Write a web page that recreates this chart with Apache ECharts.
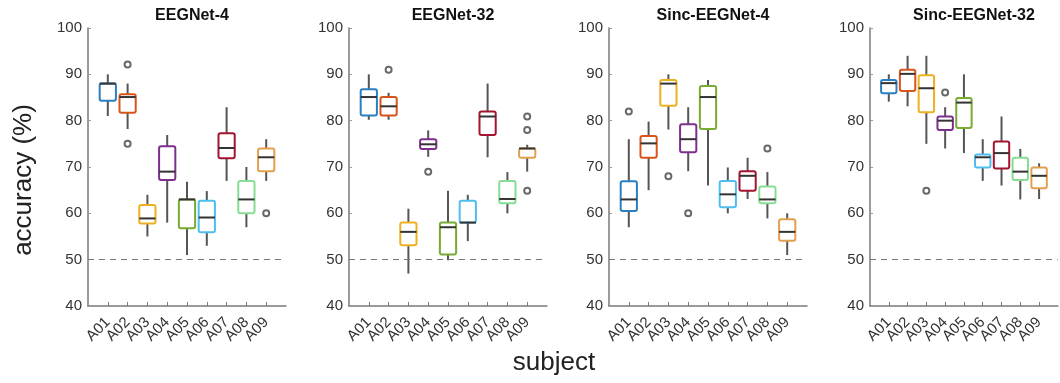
<!DOCTYPE html>
<html>
<head>
<meta charset="utf-8">
<script src="https://cdn.jsdelivr.net/npm/echarts@6/dist/echarts.min.js"></script>
<style>
  html, body { margin: 0; padding: 0; background: #fff; }
  #chart { width: 1060px; height: 383px; }
</style>
</head>
<body>
<div id="chart"></div>
<script>
// subjects, with an empty slot at each end so A01..A09 sit at 1..9
var subjects = ['', 'A01', 'A02', 'A03', 'A04', 'A05', 'A06', 'A07', 'A08', 'A09', ''];
var panelTitles = ['EEGNet-4', 'EEGNet-32', 'Sinc-EEGNet-4', 'Sinc-EEGNet-32'];
var subjectColors = ['#2b7fc0', '#d9541a', '#edb120', '#7e2f8e', '#77ac30', '#4dbeee', '#a2142f', '#86dd94', '#e2a04c'];
var yTicks = [40, 50, 60, 70, 80, 90, 100];
var chanceLevel = 50;

// [min, Q1, median, Q3, max] for A01..A09
var eegnet4 = [
	[81, 84.3, 88, 88, 90],
	[78.2, 81.7, 85.1, 85.7, 88],
	[55, 57.8, 58.9, 61.8, 64],
	[58, 67.2, 69, 74.5, 76.9],
	[51, 56.8, 63, 63, 66.8],
	[53, 55.9, 59.1, 62.7, 64.8],
	[67, 71.9, 74.1, 77.3, 82.9],
	[57, 60, 63, 67, 70],
	[67, 69.1, 72.1, 74, 76]
];
var eegnet32 = [
	[80.2, 81.1, 85.1, 86.8, 90],
	[80.2, 81.1, 83.1, 85.1, 86],
	[47, 53.1, 56, 58, 61],
	[72.2, 73.9, 74.9, 76, 77.9],
	[49.9, 51.1, 57, 58, 64.9],
	[54, 58, 58, 62.7, 64],
	[72.1, 76.9, 80.9, 82, 88],
	[60, 62.2, 63.1, 67, 68.9],
	[69, 72, 74, 74, 74.8]
];
var sinc4 = [
	[57, 60.5, 63, 66.9, 76],
	[65, 72, 75.1, 76.7, 79.8],
	[78.1, 83.2, 88, 88.8, 90],
	[69.1, 73.2, 76, 79.2, 82.9],
	[66, 78.2, 85.1, 87.5, 88.8],
	[60, 61.3, 64.1, 67, 69.9],
	[63.1, 64.9, 68.1, 69.1, 72],
	[58.9, 62.2, 63, 65.8, 68.9],
	[51, 54.1, 56, 58.7, 60]
];
var sinc32 = [
	[84.1, 85.9, 88.1, 88.8, 90],
	[83.1, 86.4, 90.1, 91, 94],
	[75, 81.8, 87, 89.8, 94],
	[74, 78, 80, 80.9, 82.9],
	[73, 78.4, 83.9, 84.9, 90],
	[67, 69.9, 72.1, 72.7, 76],
	[66, 69.7, 73, 75.5, 80.9],
	[63, 67.2, 69, 72, 73.9],
	[63.1, 65.4, 68.1, 69.9, 70.8]
];

// outliers as [subject number, value]
var eegnet4Outliers = [[2, 92.1], [2, 75], [9, 60]];
var eegnet32Outliers = [[2, 91], [4, 69], [9, 80.9], [9, 78], [9, 64.9]];
var sinc4Outliers = [[1, 82], [3, 68], [4, 60], [8, 74]];
var sinc32Outliers = [[3, 64.9], [4, 86.1]];

var panelStats = [eegnet4, eegnet32, sinc4, sinc32];
var panelOutliers = [eegnet4Outliers, eegnet32Outliers, sinc4Outliers, sinc32Outliers];
var gridLefts = [88, 349, 609, 870];
var gridWidth = 198;

function renderBox(params, api) {
	var x = api.value(0);
	var pMin = api.coord([x, api.value(1)]);
	var pQ1 = api.coord([x, api.value(2)]);
	var pMed = api.coord([x, api.value(3)]);
	var pQ3 = api.coord([x, api.value(4)]);
	var pMax = api.coord([x, api.value(5)]);
	var halfW = api.size([1, 0])[0] * 0.41;
	var color = subjectColors[x - 1];
	var cx = pMed[0];
	var whisker = { stroke: '#555', lineWidth: 2 };
	return {
		type: 'group',
		children: [
			{ type: 'line', shape: { x1: cx, y1: pMin[1], x2: cx, y2: pQ1[1] }, style: whisker },
			{ type: 'line', shape: { x1: cx, y1: pQ3[1], x2: cx, y2: pMax[1] }, style: whisker },
			{
				type: 'rect',
				shape: { x: cx - halfW, y: pQ3[1], width: halfW * 2, height: Math.max(pQ1[1] - pQ3[1], 1), r: 2 },
				style: { fill: '#fff', stroke: color, lineWidth: 2 }
			},
			{ type: 'line', shape: { x1: cx - halfW, y1: pMed[1], x2: cx + halfW, y2: pMed[1] }, style: { stroke: '#333', lineWidth: 2 } }
		]
	};
}

var grids = [], xAxes = [], yAxes = [], titles = [], series = [];

panelTitles.forEach(function (name, i) {
	grids.push({ left: gridLefts[i], top: 28, width: gridWidth, height: 278 });
	titles.push({
		text: name,
		left: gridLefts[i] + gridWidth / 2,
		top: 3,
		textAlign: 'center',
		textStyle: { fontFamily: 'Liberation Sans', fontSize: 16, fontWeight: 'bold', color: '#111' }
	});
	xAxes.push({
		type: 'category',
		gridIndex: i,
		data: subjects,
		boundaryGap: false,
		axisLine: { lineStyle: { color: '#7a7a7a', width: 1.5 } },
		axisTick: {
			inside: true, length: 4,
			interval: function (idx) { return idx > 0 && idx < subjects.length - 1; },
			lineStyle: { color: '#7a7a7a' }
		},
		axisLabel: { interval: 0, rotate: 45, margin: 14, fontFamily: 'Liberation Sans', fontSize: 15, color: '#333' },
		splitLine: { show: false }
	});
	yAxes.push({
		type: 'value',
		gridIndex: i,
		min: yTicks[0],
		max: yTicks[yTicks.length - 1],
		interval: 10,
		axisLine: { show: true, lineStyle: { color: '#7a7a7a', width: 1.5 } },
		axisTick: { show: true, inside: true, length: 3, lineStyle: { color: '#9a9a9a' } },
		axisLabel: { margin: 6, fontFamily: 'Liberation Sans', fontSize: 15, color: '#333' },
		splitLine: { show: false }
	});
	series.push({
		type: 'custom',
		xAxisIndex: i,
		yAxisIndex: i,
		renderItem: renderBox,
		encode: { x: 0, y: [1, 2, 3, 4, 5] },
		data: panelStats[i].map(function (s, k) { return [k + 1].concat(s); }),
		z: 3
	});
	series.push({
		type: 'scatter',
		xAxisIndex: i,
		yAxisIndex: i,
		symbol: 'emptyCircle',
		symbolSize: 6,
		itemStyle: { color: '#444', borderWidth: 1.6 },
		data: panelOutliers[i],
		z: 4,
		markLine: {
			silent: true,
			symbol: ['none', 'none'],
			label: { show: false },
			lineStyle: { color: '#777', type: [6, 5], width: 1 },
			data: [{ yAxis: chanceLevel }]
		}
	});
});

var chart = echarts.init(document.getElementById('chart'));
chart.setOption({
	animation: false,
	title: titles,
	grid: grids,
	xAxis: xAxes,
	yAxis: yAxes,
	graphic: [
		{
			type: 'text', rotation: Math.PI / 2, x: 24, y: 180,
			style: { text: 'accuracy (%)', font: '26px "Liberation Sans"', fill: '#222', textAlign: 'center', textVerticalAlign: 'middle' }
		},
		{
			type: 'text',
			style: { text: 'subject', x: 554, y: 363, font: '26px "Liberation Sans"', fill: '#222', textAlign: 'center', textVerticalAlign: 'middle' }
		}
	],
	series: series
});
</script>
</body>
</html>
